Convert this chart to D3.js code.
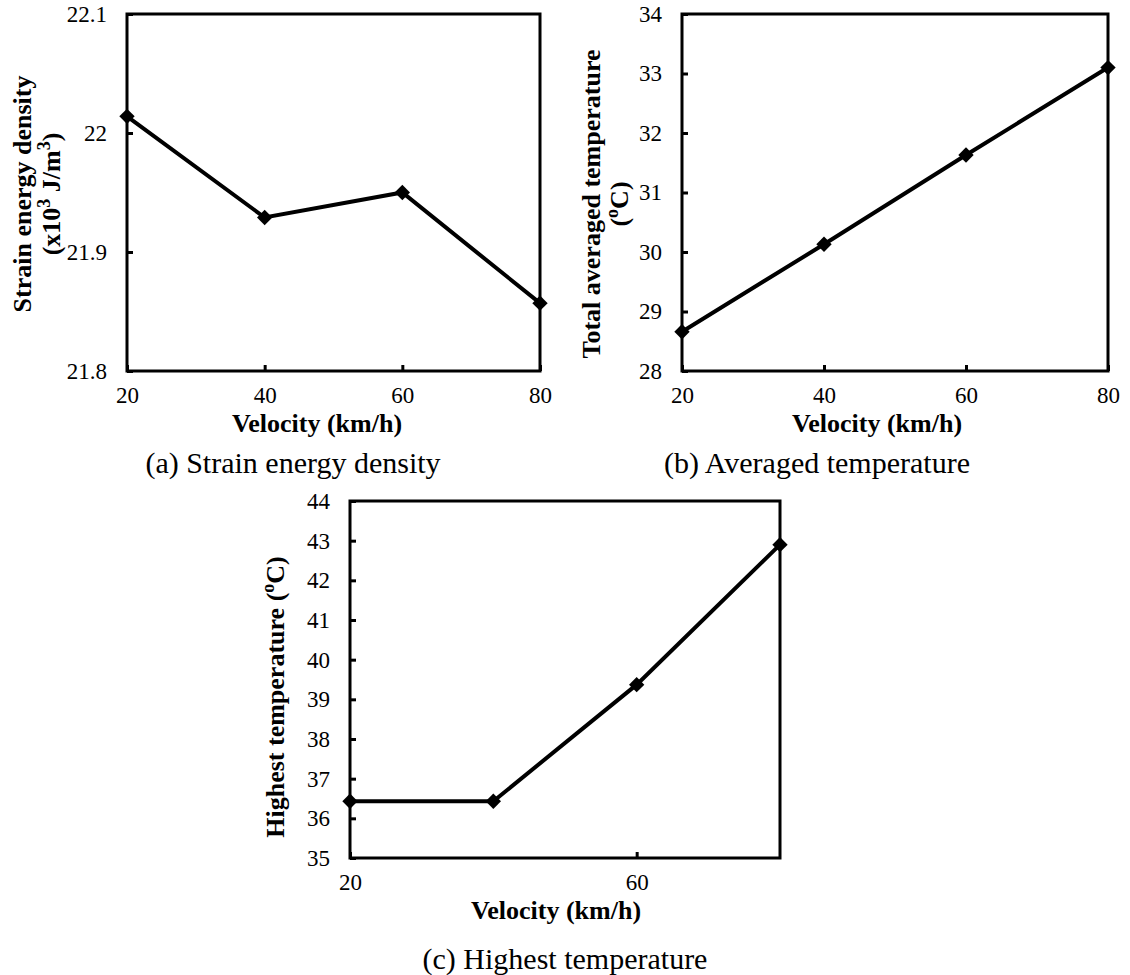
<!DOCTYPE html>
<html>
<head>
<meta charset="utf-8">
<script src="https://cdn.jsdelivr.net/npm/d3@7"></script>
<style>
  body { margin: 0; background: #fff; }
  svg text { font-family: "Liberation Serif", "Times New Roman", serif; fill: #000; }
  .tick text { font-size: 23px; }
  .axis-title { font-size: 26px; font-weight: bold; }
  .caption { font-size: 30px; }
</style>
</head>
<body>
<div id="chart"></div>
<script>
// data
const velocity = [20, 40, 60, 80];
const strainEnergy = [22.014, 21.929, 21.950, 21.857];
const avgTemp = [28.66, 30.13, 31.63, 33.10];
const highTemp = [36.43, 36.43, 39.37, 42.90];

const ticksA = [21.8, 21.9, 22, 22.1];
const ticksB = [28, 29, 30, 31, 32, 33, 34];
const ticksC = [35, 36, 37, 38, 39, 40, 41, 42, 43, 44];
const xTicksAB = [20, 40, 60, 80];
const xTicksC = [20, 60];

const svg = d3.select("#chart").append("svg")
    .attr("width", 1130)
    .attr("height", 975);

const panels = [
    {box: {left: 127, top: 14, right: 540, bottom: 371}, y: strainEnergy, yDomain: [21.8, 22.1], yTicks: ticksA, xTicks: xTicksAB,
     yTitle: [[{t: "Strain energy density"}], [{t: "(x10"}, {t: "3", sup: true}, {t: " J/m"}, {t: "3", sup: true}, {t: ")"}]],
     yTitleX: [31, 60], yTitleC: 194, xTitleX: 317,
     caption: "(a) Strain energy density", capX: 293, capY: 473},
    {box: {left: 682, top: 14, right: 1108, bottom: 371}, y: avgTemp, yDomain: [28, 34], yTicks: ticksB, xTicks: xTicksAB,
     yTitle: [[{t: "Total averaged temperature"}], [{t: "("}, {t: "o", sup: true}, {t: "C)"}]],
     yTitleX: [600, 628], yTitleC: 204, xTitleX: 877,
     caption: "(b) Averaged temperature", capX: 817, capY: 473},
    {box: {left: 350, top: 501, right: 780, bottom: 858}, y: highTemp, yDomain: [35, 44], yTicks: ticksC, xTicks: xTicksC,
     yTitle: [[{t: "Highest temperature ("}, {t: "o", sup: true}, {t: "C)"}]],
     yTitleX: [284], yTitleC: 697, xTitleX: 556,
     caption: "(c) Highest temperature", capX: 565, capY: 969}
];

const diamond = d3.symbol().type(d3.symbolDiamond2).size(150);

panels.forEach(p => {
    const b = p.box;
    const x = d3.scaleLinear().domain([20, 80]).range([b.left, b.right]);
    const y = d3.scaleLinear().domain(p.yDomain).range([b.bottom, b.top]);
    const g = svg.append("g");

    // axes, ticks pointing inward
    const yAxis = g.append("g")
        .attr("transform", `translate(${b.left},0)`)
        .call(d3.axisLeft(y).tickValues(p.yTicks).tickSize(-6).tickPadding(20)
            .tickFormat(d => +d.toFixed(1)));
    const xAxis = g.append("g")
        .attr("transform", `translate(0,${b.bottom})`)
        .call(d3.axisBottom(x).tickValues(p.xTicks).tickSize(-6).tickPadding(15));
    [yAxis, xAxis].forEach(a => {
        a.select(".domain").remove();
        a.selectAll(".tick line").attr("stroke", "#000").attr("stroke-width", 3);
        a.selectAll(".tick text").attr("font-family", null).attr("font-size", null);
    });
    xAxis.selectAll(".tick text").attr("dy", "17px");

    // frame
    g.append("rect")
        .attr("x", b.left).attr("y", b.top)
        .attr("width", b.right - b.left).attr("height", b.bottom - b.top)
        .attr("fill", "none").attr("stroke", "#000").attr("stroke-width", 3);

    // series
    const pts = velocity.map((v, i) => [v, p.y[i]]);
    g.append("path")
        .datum(pts)
        .attr("fill", "none")
        .attr("stroke", "#000")
        .attr("stroke-width", 4)
        .attr("d", d3.line().x(d => x(d[0])).y(d => y(d[1])));
    g.selectAll(".pt").data(pts).enter()
        .append("path")
        .attr("class", "pt")
        .attr("transform", d => `translate(${x(d[0])},${y(d[1])})`)
        .attr("d", diamond)
        .attr("fill", "#000");

    // y title
    p.yTitle.forEach((line, i) => {
        const t = g.append("text")
            .attr("class", "axis-title")
            .attr("text-anchor", "middle")
            .attr("transform", `translate(${p.yTitleX[i]},${p.yTitleC}) rotate(-90)`);
        line.forEach(s => {
            const ts = t.append("tspan").text(s.t);
            if (s.sup) ts.attr("baseline-shift", "super").attr("font-size", "18px");
        });
    });

    // x title
    g.append("text")
        .attr("class", "axis-title")
        .attr("text-anchor", "middle")
        .attr("x", p.xTitleX)
        .attr("y", b.bottom + 61)
        .text("Velocity (km/h)");

    // caption
    svg.append("text")
        .attr("class", "caption")
        .attr("text-anchor", "middle")
        .attr("x", p.capX)
        .attr("y", p.capY)
        .text(p.caption);
});
</script>
</body>
</html>
